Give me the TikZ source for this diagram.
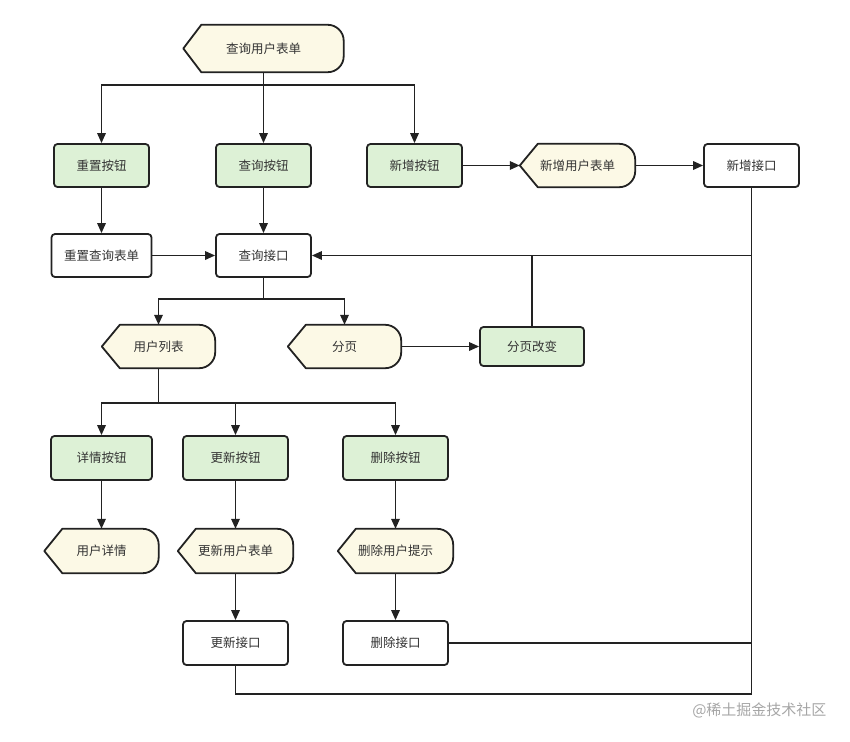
\documentclass[tikz,border=0pt]{standalone}
\usepackage{fontspec}
\newfontfamily\cjk{Noto Sans CJK SC}
\usetikzlibrary{arrows.meta,backgrounds}
\definecolor{btngreen}{HTML}{DDF1D6}
\definecolor{formyellow}{HTML}{FCF9E6}
\definecolor{edgegray}{HTML}{222222}
\tikzset{
	box/.style={draw=edgegray, line width=1.8pt, rounded corners=3.5pt, minimum height=43pt, inner sep=0pt, font=\cjk\fontsize{12.5}{14}\selectfont, text=black!80},
	btn/.style={box, fill=btngreen, minimum width=95pt},
	api/.style={box, fill=white, minimum width=95pt},
	disptext/.style={minimum height=43pt, inner sep=0pt, font=\cjk\fontsize{12.5}{14}\selectfont, text=black!80},
	dispshape/.style={draw=edgegray, fill=formyellow, line width=1.8pt, line join=round},
	arr/.style={draw=edgegray, line width=1.7pt, -{Triangle[length=10pt,width=8.5pt]}},
	wire/.style={draw=edgegray, line width=1.7pt},
}
\newcommand{\dispnode}[5][]{%
	\path (#3) node[disptext, minimum width=#4, #1] (#2) {#5};
	\begin{pgfonlayer}{background}
		\filldraw[dispshape] (#2.west) -- ([xshift=18pt]#2.north west) -- ([xshift=-16pt]#2.north east) arc[start angle=90, end angle=0, radius=16pt] -- ([yshift=16pt]#2.south east) arc[start angle=0, end angle=-90, radius=16pt] -- ([xshift=18pt]#2.south west) -- cycle;
	\end{pgfonlayer}
}
\begin{document}
\begin{tikzpicture}[x=1pt, y=-1pt]
				\useasboundingbox (0,0) rectangle (850,741);
				
				\dispnode[minimum height=47pt]{qform}{263.5,48.5}{160pt}{查询用户表单}
				\path (101.5,165.5) node[btn] (resetbtn) {重置按钮};
				\path (263.5,165.5) node[btn] (querybtn) {查询按钮};
				\path (414.5,165.5) node[btn] (addbtn) {新增按钮};
				\dispnode{addform}{577.5,165.5}{115pt}{新增用户表单}
				\path (751.5,165.5) node[api] (addapi) {新增接口};
				\path (101.5,255.5) node[api, minimum width=100pt] (resetform) {重置查询表单};
				\path (263.5,255.5) node[api] (queryapi) {查询接口};
				
				\dispnode{userlist}{158.5,346.5}{113pt}{用户列表}
				\dispnode{paging}{344.5,346.5}{113pt}{分页}
				\path (532,346.5) node[btn, minimum width=104pt, minimum height=39pt] (pagechange) {分页改变};
				
				\path (101.5,458) node[btn, minimum width=101pt, minimum height=44pt] (detailbtn) {详情按钮};
				\path (235.5,458) node[btn, minimum width=105pt, minimum height=44pt] (updatebtn) {更新按钮};
				\path (395.5,458) node[btn, minimum width=105pt, minimum height=44pt] (deletebtn) {删除按钮};
				\dispnode[minimum height=44pt]{userdetail}{101.5,551}{114pt}{用户详情}
				\dispnode[minimum height=44pt]{updateform}{235.5,551}{115pt}{更新用户表单}
				\dispnode[minimum height=44pt]{deletetip}{395.5,551}{115pt}{删除用户提示}
				\path (235.5,643) node[api, minimum width=105pt, minimum height=44pt] (updateapi) {更新接口};
				\path (395.5,643) node[api, minimum width=105pt, minimum height=44pt] (deleteapi) {删除接口};
				
				\coordinate (topsplit) at (263.5,85);
				\coordinate (listsplit) at (263.5,299);
				\coordinate (btnsplit) at (158.5,403);
				\coordinate (busquery) at (751.5,255.5);
				\coordinate (busdelete) at (751.5,643);
				\coordinate (busbottom) at (751.5,694);
				
				\draw[wire] (qform) -- (topsplit);
				\draw[arr] (topsplit) -| (resetbtn);
				\draw[arr] (topsplit) -- (querybtn);
				\draw[arr] (topsplit) -| (addbtn);
				\draw[arr] (resetbtn) -- (resetform);
				\draw[arr] (querybtn) -- (queryapi);
				\draw[arr] (addbtn) -- (addform);
				\draw[arr] (addform) -- (addapi);
				\draw[arr] (resetform) -- (queryapi);
				
				\draw[wire] (addapi) -- (busbottom) -| (updateapi);
				\draw[arr] (busquery) -- (queryapi);
				\draw[wire] (pagechange) -- (pagechange |- busquery);
				\draw[wire] (deleteapi) -- (busdelete);
				
				\draw[wire] (queryapi) -- (listsplit);
				\draw[arr] (listsplit) -| (userlist);
				\draw[arr] (listsplit) -| (paging);
				\draw[arr] (paging) -- (pagechange);
				
				\draw[wire] (userlist) -- (btnsplit);
				\draw[arr] (btnsplit) -| (detailbtn);
				\draw[arr] (btnsplit) -| (updatebtn);
				\draw[arr] (btnsplit) -| (deletebtn);
				\draw[arr] (detailbtn) -- (userdetail);
				\draw[arr] (updatebtn) -- (updateform);
				\draw[arr] (updateform) -- (updateapi);
				\draw[arr] (deletebtn) -- (deletetip);
				\draw[arr] (deletetip) -- (deleteapi);
				
				\path (830,710) node[anchor=east, font=\cjk\fontsize{15}{16}\selectfont, text=black!35] (mark) {@稀土掘金技术社区};
\end{tikzpicture}
\end{document}
